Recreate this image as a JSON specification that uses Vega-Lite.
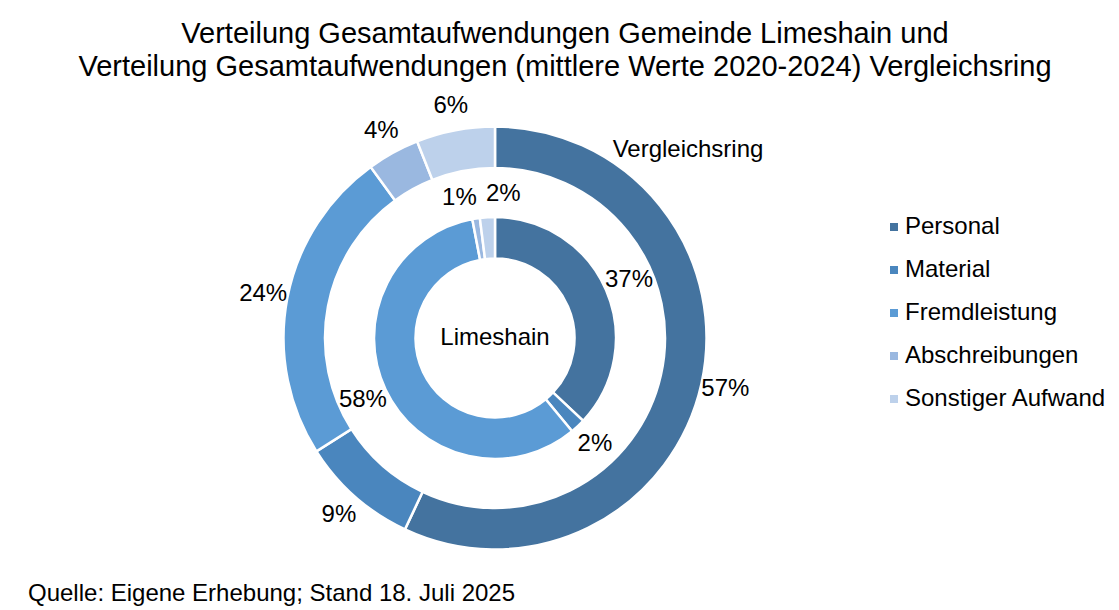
{
  "$schema": "https://vega.github.io/schema/vega-lite/v6.json",
  "autosize": "none",
  "width": 424,
  "height": 424,
  "padding": {"left": 283, "top": 126, "right": 412, "bottom": 60},
  "background": "white",
  "config": {
    "font": "Liberation Sans",
    "view": {"stroke": null},
    "text": {"font": "Liberation Sans", "fontSize": 24, "color": "black"}
  },
  "title": {
    "text": ["Verteilung Gesamtaufwendungen Gemeinde Limeshain und", "Verteilung Gesamtaufwendungen (mittlere Werte 2020-2024) Vergleichsring"],
    "font": "Liberation Sans",
    "fontSize": 29,
    "fontWeight": "normal",
    "color": "black",
    "anchor": "middle",
    "frame": "group",
    "dx": 70,
    "offset": 12,
    "lineHeight": 33
  },
  "data": {
    "values": [
      {"ring": "Vergleichsring", "kategorie": "Personal", "nr": 1, "anteil": 0.57},
      {"ring": "Vergleichsring", "kategorie": "Material", "nr": 2, "anteil": 0.09},
      {"ring": "Vergleichsring", "kategorie": "Fremdleistung", "nr": 3, "anteil": 0.24},
      {"ring": "Vergleichsring", "kategorie": "Abschreibungen", "nr": 4, "anteil": 0.04},
      {"ring": "Vergleichsring", "kategorie": "Sonstiger Aufwand", "nr": 5, "anteil": 0.06},
      {"ring": "Limeshain", "kategorie": "Personal", "nr": 1, "anteil": 0.37},
      {"ring": "Limeshain", "kategorie": "Material", "nr": 2, "anteil": 0.02},
      {"ring": "Limeshain", "kategorie": "Fremdleistung", "nr": 3, "anteil": 0.58},
      {"ring": "Limeshain", "kategorie": "Abschreibungen", "nr": 4, "anteil": 0.01},
      {"ring": "Limeshain", "kategorie": "Sonstiger Aufwand", "nr": 5, "anteil": 0.02}
    ]
  },
  "encoding": {
    "theta": {"field": "anteil", "type": "quantitative", "stack": true, "scale": {"domain": [0, 1]}},
    "order": {"field": "nr", "type": "quantitative"},
    "color": {
      "field": "kategorie",
      "type": "nominal",
      "scale": {
        "domain": ["Personal", "Material", "Fremdleistung", "Abschreibungen", "Sonstiger Aufwand"],
        "range": ["#44739F", "#4A86BE", "#5B9BD5", "#9AB8E0", "#BDD1EB"]
      },
      "legend": {
        "title": null,
        "orient": "none",
        "legendX": 599,
        "legendY": 89,
        "symbolType": "square",
        "symbolSize": 64,
        "symbolStrokeWidth": 0,
        "labelFont": "Liberation Sans",
        "labelFontSize": 24,
        "labelColor": "black",
        "labelOffset": -1,
        "rowPadding": 19,
        "labelLimit": 400
      }
    }
  },
  "layer": [
    {
      "transform": [{"filter": "datum.ring === 'Vergleichsring'"}],
      "mark": {"type": "arc", "radius": 211.5, "radius2": 170, "stroke": "white", "strokeWidth": 2.5}
    },
    {
      "transform": [{"filter": "datum.ring === 'Limeshain'"}],
      "mark": {"type": "arc", "radius": 121, "radius2": 79.5, "stroke": "white", "strokeWidth": 2.5}
    },
    {
      "transform": [{"filter": "datum.ring === 'Vergleichsring'"}],
      "mark": {"type": "text", "radius": 236, "align": "center", "baseline": "middle"},
      "encoding": {
        "text": {"field": "anteil", "type": "quantitative", "format": ".0%"},
        "color": {"value": "black"}
      }
    },
    {
      "transform": [{"filter": "datum.ring === 'Limeshain'"}],
      "mark": {"type": "text", "radius": 146, "align": "center", "baseline": "middle"},
      "encoding": {
        "text": {"condition": {"test": "datum.nr <= 3", "field": "anteil", "type": "quantitative", "format": ".0%"}, "value": ""},
        "color": {"value": "black"}
      }
    },
    {
      "transform": [{"filter": "datum.ring === 'Limeshain'"}],
      "mark": {"type": "text", "radius": 142, "align": "right", "baseline": "middle", "dx": 4},
      "encoding": {
        "text": {"condition": {"test": "datum.nr === 4", "field": "anteil", "type": "quantitative", "format": ".0%"}, "value": ""},
        "color": {"value": "black"}
      }
    },
    {
      "transform": [{"filter": "datum.ring === 'Limeshain'"}],
      "mark": {"type": "text", "radius": 144, "align": "left", "baseline": "middle"},
      "encoding": {
        "text": {"condition": {"test": "datum.nr === 5", "field": "anteil", "type": "quantitative", "format": ".0%"}, "value": ""},
        "color": {"value": "black"}
      }
    },
    {
      "data": {"values": [{"beschriftung": "Limeshain"}]},
      "mark": {"type": "text", "align": "center", "baseline": "middle"},
      "encoding": {
        "text": {"field": "beschriftung", "type": "nominal"},
        "theta": null, "order": null, "color": null
      }
    },
    {
      "data": {"values": [{"beschriftung": "Vergleichsring"}]},
      "mark": {"type": "text", "align": "center", "baseline": "middle"},
      "encoding": {
        "text": {"field": "beschriftung", "type": "nominal"},
        "x": {"value": 405},
        "y": {"value": 24},
        "theta": null, "order": null, "color": null
      }
    },
    {
      "data": {"values": [{"beschriftung": "Quelle: Eigene Erhebung; Stand 18. Juli 2025"}]},
      "mark": {"type": "text", "align": "left", "baseline": "middle"},
      "encoding": {
        "text": {"field": "beschriftung", "type": "nominal"},
        "x": {"value": -255},
        "y": {"value": 468},
        "theta": null, "order": null, "color": null
      }
    }
  ]
}
